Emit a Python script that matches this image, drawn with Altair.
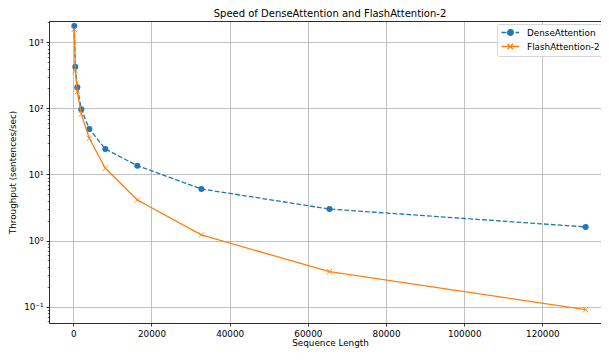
import altair as alt
import pandas as pd

# ---- data ----
seq_len = [256, 512, 1024, 2048, 4096, 8192, 16384, 32768, 65536, 131072]
dense = [1766, 428, 208, 97, 48.8, 24.3, 13.6, 6.04, 3.0, 1.61]
flash = [1574, 368, 179, 82, 35.3, 12.4, 4.11, 1.22, 0.339, 0.090]
series_names = ["DenseAttention", "FlashAttention-2"]
colors = ["#1f77b4", "#ff7f0e"]
x_ticks = [0, 20000, 40000, 60000, 80000, 100000, 120000]
y_major = [0.1, 1, 10, 100, 1000]
y_major_labels = ["10⁻¹", "10⁰", "10¹", "10²", "10³"]
y_minor = [0.06, 0.07, 0.08, 0.09,
           0.2, 0.3, 0.4, 0.5, 0.6, 0.7, 0.8, 0.9,
           2, 3, 4, 5, 6, 7, 8, 9,
           20, 30, 40, 50, 60, 70, 80, 90,
           200, 300, 400, 500, 600, 700, 800, 900,
           2000]

df = pd.DataFrame({
    "seq": seq_len + seq_len,
    "thr": dense + flash,
    "series": [series_names[0]] * len(seq_len) + [series_names[1]] * len(seq_len),
})

FONT = "DejaVu Sans"
W, H = 552, 302

x_scale = alt.Scale(domain=[-6216, 134996], nice=False, zero=False)
y_scale = alt.Scale(type="log", domain=[0.05665, 2099], nice=False)

x_axis = alt.Axis(
    values=x_ticks, format="d", title="Sequence Length",
    grid=True, gridColor="#b0b0b0", gridWidth=0.8,
    tickSize=3, tickWidth=0.8, tickColor="black",
    domainColor="black", domainWidth=0.8,
    labelFont=FONT, labelFontSize=8.8, labelColor="black", labelPadding=3,
    labelFlush=False, labelOverlap=False,
    titleFont=FONT, titleFontSize=8.8, titleFontWeight="normal", titleColor="black",
    titleX=281, titleY=19, titleBaseline="middle",
)
top_axis = alt.Axis(
    orient="top", labels=False, ticks=False, grid=False, title=None,
    domainColor="black", domainWidth=0.8,
)

major_test = "indexof([" + ",".join(str(v) for v in y_major) + "], datum.value) >= 0"
label_expr = ""
for v, lab in zip(y_major, y_major_labels):
    label_expr += f"datum.value == {v} ? '{lab}' : "
label_expr += "''"

y_axis = alt.Axis(
    values=sorted(y_major + y_minor), labelExpr=label_expr,
    title="Throughput (sentences/sec)",
    grid=True, gridColor="#b0b0b0", gridWidth=0.8,
    gridOpacity={"condition": {"test": major_test, "value": 1}, "value": 0},
    tickSize={"condition": {"test": major_test, "value": 3}, "value": 1.75},
    tickWidth={"condition": {"test": major_test, "value": 0.8}, "value": 0.6},
    tickColor="black",
    domainColor="black", domainWidth=0.8,
    labelFont=FONT, labelFontSize=8.8, labelColor="black", labelPadding=3,
    labelOverlap=False, labelFlush=False,
    titleFont=FONT, titleFontSize=8.8, titleFontWeight="normal", titleColor="black",
    titleX=-36.5, titleY=H / 2, titleBaseline="middle", titleAlign="center",
)

base = alt.Chart(df)

def enc(xa=None, ya=None):
    return dict(
        x=alt.X("seq:Q", scale=x_scale, axis=xa),
        y=alt.Y("thr:Q", scale=y_scale, axis=ya),
    )

dense_line = base.transform_filter(alt.datum.series == series_names[0]).mark_line(
    color=colors[0], strokeWidth=1.3, strokeDash=[4.8, 2.1]
).encode(**enc(x_axis, y_axis))

dense_pts = base.transform_filter(alt.datum.series == series_names[0]).mark_point(
    shape="circle", filled=True, size=36, color=colors[0], opacity=1
).encode(**enc(top_axis, None))

flash_line = base.transform_filter(alt.datum.series == series_names[1]).mark_line(
    color=colors[1], strokeWidth=1.3
).encode(**enc(None, None))

flash_pts = base.transform_filter(alt.datum.series == series_names[1]).mark_point(
    shape="M-1,-1L1,1M-1,1L1,-1", filled=False, size=28, color=colors[1],
    strokeWidth=0.9, opacity=1
).encode(**enc(None, None))

# legend-only layer (no data rows drawn)
legend_paths = [
    "M-1,0H0.225M2.5,0H3.4M1.95,0A0.7,0.7 0 1,1 0.55,0A0.7,0.7 0 1,1 1.95,0Z",
    "M-1,0H3.4M0.525,-0.675L1.875,0.675M0.525,0.675L1.875,-0.675",
]
leg = alt.Legend(
    title=None, orient="none", legendX=448, legendY=3, direction="vertical",
    padding=3.5, symbolSize=64, labelOffset=16.6, rowPadding=2,
    labelFont=FONT, labelFontSize=8.8, labelColor="black", labelLimit=300,
    strokeColor="#d6d6d6", fillColor="rgba(255,255,255,0.8)", cornerRadius=2,
    symbolStrokeWidth=1.3, symbolOpacity=1,
)
legend_layer = base.transform_filter("false").mark_point(
    filled=False, opacity=1, strokeWidth=1.3
).encode(
    **enc(None, None),
    stroke=alt.Stroke("series:N", scale=alt.Scale(domain=series_names, range=colors), legend=leg),
    fill=alt.Fill("series:N", scale=alt.Scale(domain=series_names, range=colors), legend=leg),
    shape=alt.Shape("series:N", scale=alt.Scale(domain=series_names, range=legend_paths), legend=leg),
)

chart = alt.layer(
    dense_line, dense_pts, flash_line, flash_pts, legend_layer
).resolve_axis(
    x="independent", y="independent"
).properties(
    width=W, height=H,
    title=alt.TitleParams(
        "Speed of DenseAttention and FlashAttention-2",
        font=FONT, fontSize=10, fontWeight="normal", color="black",
        anchor="middle", offset=2, baseline="alphabetic", frame="group", dx=5, dy=10.5,
    ),
    padding={"left": 41, "top": 13, "right": 0, "bottom": 25},
    autosize=alt.AutoSizeParams(type="none"),
    background="white",
).configure_view(stroke=None).configure(font=FONT)

chart.save("out.html", embed_options={"renderer": "svg", "actions": False})
